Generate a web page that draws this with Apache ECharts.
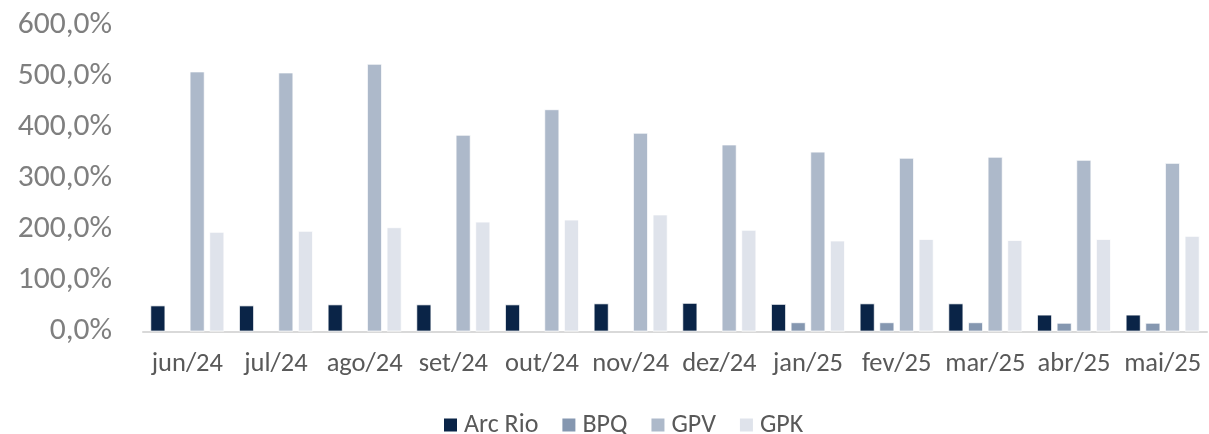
<!DOCTYPE html>
<html>
<head>
<meta charset="utf-8">
<script src="https://cdn.jsdelivr.net/npm/echarts@6/dist/echarts.min.js"></script>
<style>html,body{margin:0;padding:0;background:#fff;}#c{width:1209px;height:434px;}</style>
</head>
<body>
<div id="c"></div>
<script>
const categories = ['jun/24','jul/24','ago/24','set/24','out/24','nov/24','dez/24','jan/25','fev/25','mar/25','abr/25','mai/25'];
const arcRio = [51, 51, 53, 53, 53, 55, 56, 54, 55, 55, 33, 33];
const bpq = [null, null, null, null, null, null, null, 18, 18, 18, 17, 17];
const gpv = [509, 507, 524, 385, 435, 389, 366, 352, 340, 342, 336, 330];
const gpk = [195, 197, 204, 215, 219, 229, 199, 178, 181, 179, 181, 187];
const yTicks = [0, 100, 200, 300, 400, 500, 600];

const FONT = 'Carlito, Lato, sans-serif';
const colors = ['#0a2447', '#8597b0', '#adb9ca', '#dfe3eb'];
const names = ['Arc Rio', 'BPQ', 'GPV', 'GPK'];
const dataSets = [arcRio, bpq, gpv, gpk];

const chart = echarts.init(document.getElementById('c'), null, {renderer: 'canvas'});
chart.setOption({
  animation: false,
  color: colors,
  grid: {left: 143, right: 2, top: 25, bottom: 102.5, containLabel: false},
  legend: {
    top: 407,
    left: 437,
    itemWidth: 15, itemHeight: 15, itemGap: 22,
    icon: 'rect',
    textStyle: {fontFamily: FONT, fontSize: 26, color: '#595959', padding: [0, 0, 0, 1]},
    data: names
  },
  xAxis: {
    type: 'category',
    data: categories,
    axisTick: {show: false},
    axisLine: {lineStyle: {color: '#d9d9d9', width: 2}},
    axisLabel: {fontFamily: FONT, fontSize: 26.5, color: '#595959', margin: 19, interval: 0}
  },
  yAxis: {
    type: 'value',
    min: yTicks[0], max: yTicks[yTicks.length - 1], interval: 100,
    splitLine: {show: false},
    axisLine: {show: false},
    axisTick: {show: false},
    axisLabel: {
      fontFamily: FONT, fontSize: 31.5, color: '#7f7f7f', margin: 31,
      formatter: v => v.toFixed(1).replace('.', ',') + '%'
    }
  },
  series: names.map((n, i) => ({
    name: n,
    type: 'bar',
    data: dataSets[i],
    barWidth: 15,
    barGap: '31%',
    barCategoryGap: '16%',
    itemStyle: {color: colors[i], borderColor: '#ffffff', borderWidth: 0.8}
  }))
});
</script>
</body>
</html>
